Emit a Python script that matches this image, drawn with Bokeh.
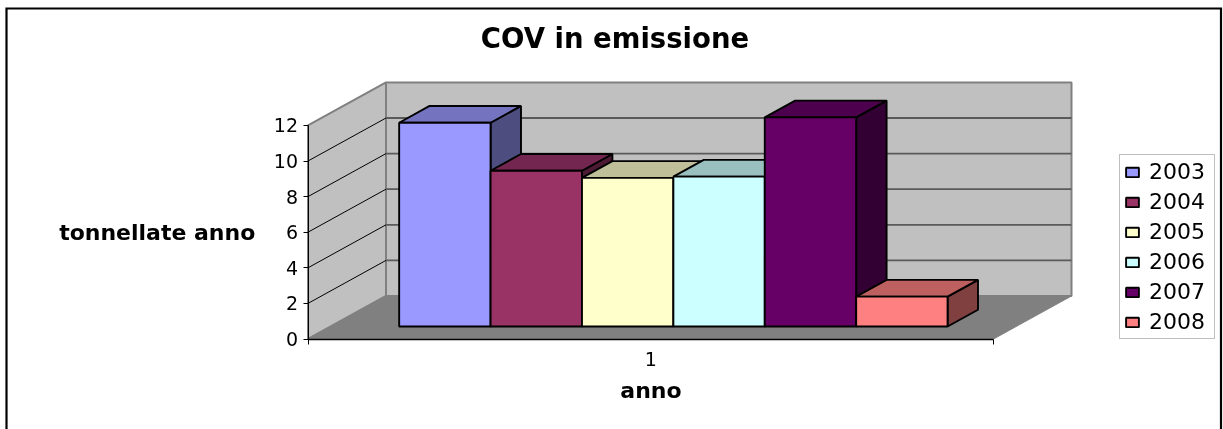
from bokeh.plotting import figure
from bokeh.embed import file_html
from bokeh.resources import INLINE
from bokeh.models import FixedTicker, Range1d, Legend, LegendItem
from bokeh.core.properties import value
import numpy as np

# ---- data ----
years = ["2003", "2004", "2005", "2006", "2007", "2008"]
tons = [11.45, 8.75, 8.35, 8.42, 11.75, 1.68]
front_colors = ["#9999FF", "#993366", "#FFFFCC", "#CCFFFF", "#660066", "#FF8080"]
top_colors = ["#7373BF", "#732650", "#BFBF99", "#99BFBF", "#4D004D", "#BF6060"]
side_colors = ["#4D4D80", "#4D1A33", "#808066", "#668080", "#330033", "#804040"]
y_ticks = [0, 2, 4, 6, 8, 10, 12]
title_text = "COV in emissione"
y_title = "tonnellate anno"
x_title = "anno"
category_label = "1"

# ---- layout ----
W, H = 1223, 429
PX_X0, PX_PER_CAT = 307.5, 685.5      # screen x of category axis start, px per category
PX_Y0, PX_PER_UNIT = 338.5, 17.8      # screen y of value 0, px per unit
DEPTH_X = 78.0 / PX_PER_CAT           # wall depth in data units
DEPTH_Y = 43.0 / PX_PER_UNIT
BAR_W = 1 / 7.5
BAR_X0 = 0.5 + 0.75 * BAR_W
D_FRONT, D_BACK = 0.29, 0.68

def sx(px):
    return 0.5 + (px - PX_X0) / PX_PER_CAT

def sy(px):
    return (PX_Y0 - px) / PX_PER_UNIT

def proj(t, v, d):
    return t + d * DEPTH_X, v + d * DEPTH_Y

def poly(pts):
    xs, ys = zip(*[proj(*q) for q in pts])
    return list(xs), list(ys)

p = figure(width=W, height=H, output_backend="svg", toolbar_location=None,
           x_range=Range1d(sx(0), sx(W)), y_range=Range1d(sy(H), sy(0)),
           min_border=0, outline_line_color=None, background_fill_color="white",
           border_fill_color="white")
p.styles = {"position": "fixed", "left": "0px", "top": "0px"}
p.grid.visible = False

# outer chart border (its bottom edge falls below the picture)
p.line([sx(6), sx(6), sx(1220.5), sx(1220.5)], [sy(440), sy(8), sy(8), sy(440)],
       line_color="black", line_width=2.2, line_join="miter")

# walls and floor
tmax = y_ticks[-1]
xs, ys = poly([(0.5, 0, 0), (0.5, tmax, 0), (0.5, tmax, 1), (0.5, 0, 1)])
p.patch(xs, ys, fill_color="#C0C0C0", line_color="#808080", line_width=2)
xs, ys = poly([(0.5, 0, 1), (0.5, tmax, 1), (1.5, tmax, 1), (1.5, 0, 1)])
p.patch(xs, ys, fill_color="#C0C0C0", line_color="#808080", line_width=2)
xs, ys = poly([(0.5, 0, 0), (1.5, 0, 0), (1.5, 0, 1), (0.5, 0, 1)])
p.patch(xs, ys, fill_color="#808080", line_color="#808080", line_width=1)

# gridlines
for v in y_ticks[1:-1]:
    xs, ys = poly([(0.5, v, 0), (0.5, v, 1)])
    p.line(xs, ys, line_color="black", line_width=1)
    xs, ys = poly([(0.5, v, 1), (1.5, v, 1)])
    p.line(xs, ys, line_color="#5A5A5A", line_width=1.8)

# bars
fronts = []
for i, v in enumerate(tons):
    t0, t1 = BAR_X0 + i * BAR_W, BAR_X0 + (i + 1) * BAR_W
    lw = 1.9
    xs, ys = poly([(t1, 0, D_FRONT), (t1, v, D_FRONT), (t1, v, D_BACK), (t1, 0, D_BACK)])
    p.patch(xs, ys, fill_color=side_colors[i], line_color="black", line_width=lw)
    xs, ys = poly([(t0, v, D_FRONT), (t1, v, D_FRONT), (t1, v, D_BACK), (t0, v, D_BACK)])
    p.patch(xs, ys, fill_color=top_colors[i], line_color="black", line_width=lw)
    l, b = proj(t0, 0, D_FRONT)
    r, t = proj(t1, v, D_FRONT)
    fronts.append(p.quad(left=[l], right=[r], bottom=[b], top=[t],
                         fill_color=front_colors[i], line_color="black", line_width=lw))

# axes
ax = p.xaxis[0]
ax.fixed_location = 0
ax.bounds = (0.5, 1.5)
ax.ticker = FixedTicker(ticks=[1], minor_ticks=[0.5, 1.5])
ax.major_label_overrides = {1: category_label}
ax.major_tick_out = 0
ax.major_tick_in = 0
ax.minor_tick_out = 5
ax.minor_tick_in = 0
ax.minor_tick_line_color = "black"
ax.axis_line_color = "black"
ax.axis_line_width = 1.6
ax.major_label_text_font = "DejaVu Sans"
ax.major_label_text_font_size = "19px"
ax.major_label_text_color = "black"
ax.major_label_standoff = 8
ax.axis_label = x_title
ax.axis_label_text_font = "DejaVu Sans"
ax.axis_label_text_font_size = "22px"
ax.axis_label_text_font_style = "bold"
ax.axis_label_text_color = "black"
ax.axis_label_standoff = 8

ay = p.yaxis[0]
ay.fixed_location = 0.5
ay.bounds = (0, tmax)
ay.ticker = FixedTicker(ticks=y_ticks)
ay.major_tick_out = 5
ay.major_tick_in = 0
ay.minor_tick_out = 0
ay.minor_tick_in = 0
ay.axis_line_color = "black"
ay.major_tick_line_color = "black"
ay.major_label_text_font = "DejaVu Sans"
ay.major_label_text_font_size = "19px"
ay.major_label_text_color = "black"
ay.major_label_standoff = 5
ay.axis_label = y_title
ay.axis_label_orientation = "horizontal"
ay.axis_label_text_font = "DejaVu Sans"
ay.axis_label_text_font_size = "22px"
ay.axis_label_text_font_style = "bold"
ay.axis_label_text_color = "black"
ay.axis_label_standoff = 16

# title
p.text([sx(614.5)], [sy(37)], text=[title_text], text_font=value("DejaVu Sans"),
       text_font_style="bold", text_font_size="27.5px", text_color="black",
       text_align="center", text_baseline="middle")

# legend
legend = Legend(items=[LegendItem(label=y, renderers=[r]) for y, r in zip(years, fronts)],
                location=(1119, H - 339), orientation="vertical",
                glyph_width=16, glyph_height=12, label_standoff=9, spacing=5,
                label_height=20, label_width=61, padding=4, margin=0,
                border_line_color="#808080", border_line_width=1.4,
                background_fill_color="white", background_fill_alpha=1,
                label_text_font="DejaVu Sans", label_text_font_size="22px",
                label_text_color="black")
p.add_layout(legend)

open("out.html", "w").write(file_html(p, INLINE))
